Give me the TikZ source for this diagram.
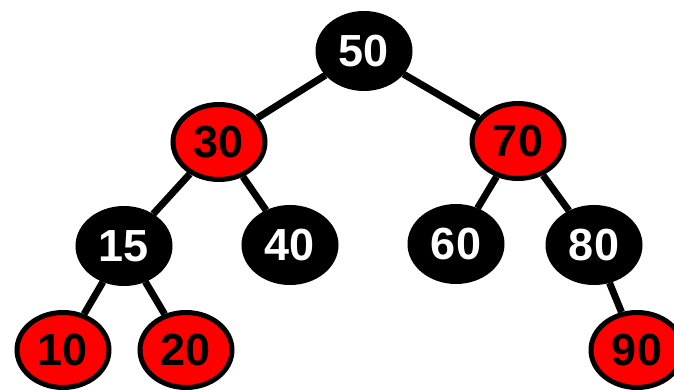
\documentclass[tikz,border=0pt]{standalone}
\usepackage{fontspec}
\setmainfont{Liberation Sans}
\usetikzlibrary{shapes.geometric}
\tikzset{
  rbnode/.style={ellipse, draw=black, line width=5pt, minimum width=92pt, minimum height=75pt, inner sep=0pt,
    font=\fontsize{45}{45}\selectfont\bfseries},
  blk/.style={rbnode, fill=black, text=white},
  rd/.style={rbnode, fill=red, text=black},
  edge/.style={line width=7pt, black}
}
\begin{document}
\begin{tikzpicture}[x=1pt,y=-1pt]
\useasboundingbox (0,0) rectangle (674,390);
\node[blk] (n50) at (364,51) {50};
\node[rd]  (n30) at (219,142) {30};
\node[rd]  (n70) at (518,141) {70};
\node[blk] (n15) at (124,246) {15};
\node[blk] (n40) at (290,245) {40};
\node[blk] (n60) at (456,244) {60};
\node[blk] (n80) at (594,245) {80};
\node[rd]  (n10) at (63,350) {10};
\node[rd]  (n20) at (186,350) {20};
\node[rd]  (n90) at (637,350) {90};
\draw[edge] (n50) -- (n30);
\draw[edge] (n50) -- (n70);
\draw[edge] (n30) -- (n15);
\draw[edge] (n30) -- (n40);
\draw[edge] (n70) -- (n60);
\draw[edge] (n70) -- (n80);
\draw[edge] (n15) -- (n10);
\draw[edge] (n15) -- (n20);
\draw[edge] (n80) -- (n90);
\end{tikzpicture}
\end{document}
